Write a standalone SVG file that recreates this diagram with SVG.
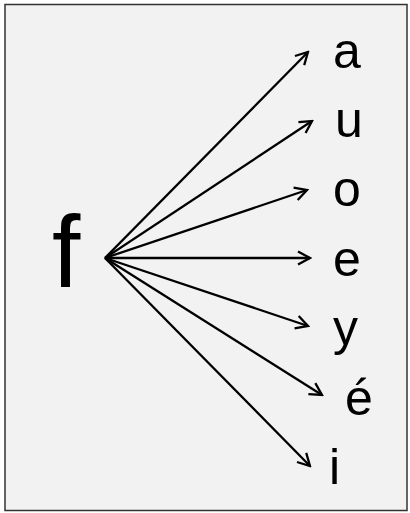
<svg xmlns="http://www.w3.org/2000/svg" width="410" height="513" viewBox="0 0 410 513">
<defs>
<style>
.lbl{font-family:"Century Gothic","Liberation Sans",Arial,sans-serif;font-size:50px;fill:#000}
.big{font-size:102px}
.edge{stroke:#000;stroke-width:2.3;fill:none;marker-end:url(#ah)}
</style>
<marker id="ah" markerWidth="16" markerHeight="16" refX="0" refY="0" viewBox="-14 -8 16 16" orient="auto" markerUnits="userSpaceOnUse">
<path d="M-12,-6.5 L0,0 L-12,6.5" fill="none" stroke="#000" stroke-width="2.3"/>
</marker>
</defs>
<rect x="5" y="4.5" width="402" height="506" fill="#f2f2f2" stroke="#333" stroke-width="1.5"/>
<g id="connectors">
<line class="edge" x1="105" y1="258" x2="308" y2="52"/>
<line class="edge" x1="105" y1="258" x2="312" y2="121"/>
<line class="edge" x1="105" y1="258" x2="307" y2="190"/>
<line class="edge" x1="105" y1="258" x2="310" y2="258"/>
<line class="edge" x1="105" y1="258" x2="308" y2="326"/>
<line class="edge" x1="105" y1="258" x2="322" y2="395"/>
<line class="edge" x1="105" y1="258" x2="310" y2="466"/>
</g>
<g id="node-f"><text class="lbl big" x="52" y="287">f</text></g>
<g id="node-a"><text class="lbl" x="333" y="68">a</text></g>
<g id="node-u"><text class="lbl" x="335" y="137">u</text></g>
<g id="node-o"><text class="lbl" x="333" y="206">o</text></g>
<g id="node-e"><text class="lbl" x="333" y="276">e</text></g>
<g id="node-y"><text class="lbl" x="333" y="345">y</text></g>
<g id="node-eacute"><text class="lbl" x="345" y="415">é</text></g>
<g id="node-i"><text class="lbl" x="329" y="484">i</text></g>
</svg>
